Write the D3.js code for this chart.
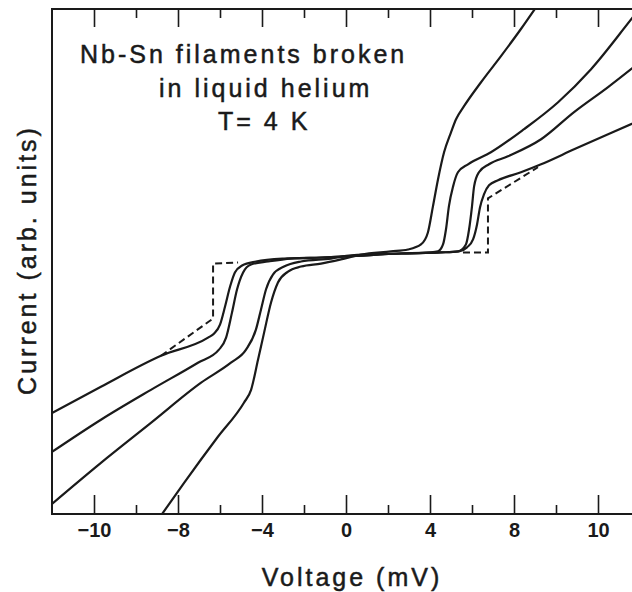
<!DOCTYPE html>
<html>
<head>
<meta charset="utf-8">
<script src="https://cdn.jsdelivr.net/npm/d3@7"></script>
<style>
  html, body { margin: 0; padding: 0; background: #fff; }
  svg { display: block; }
</style>
</head>
<body>
<div id="chart"></div>
<script>
// I-V traces: [voltage (mV), current (arb. units)]
const curveA = [
  [-14, -7.2], [-11.67, -5.95], [-8.81, -4.48], [-6.57, -3.62], [-6.29, -3.43], [-6.0, -3.0],
  [-5.76, -2.14], [-5.52, -1.19], [-5.29, -0.52], [-4.95, -0.19], [-4.29, 0], [-2.95, 0.14],
  [-1.19, 0.19], [0, 0.24], [2.62, 0.38], [4.52, 0.43], [5.38, 0.48], [5.76, 0.67], [6.05, 1.05],
  [6.24, 1.76], [6.38, 2.57], [6.57, 3.19], [6.81, 3.62], [7.24, 3.86], [8.33, 4.24], [9.29, 4.62],
  [10.86, 5.33], [12.48, 6.05], [14, 6.71],
]
const curveB = [
  [-14, -9.05], [-11.67, -7.52], [-9.29, -6.1], [-7.05, -4.81], [-6.05, -4.19], [-5.71, -3.62],
  [-5.43, -2.43], [-5.19, -1.33], [-4.9, -0.52], [-4.52, -0.14], [-3.71, 0], [-2.62, 0.14],
  [-1.19, 0.19], [0, 0.24], [2.62, 0.38], [4.52, 0.43], [5.33, 0.48], [5.71, 0.81], [5.86, 1.52],
  [6.0, 2.62], [6.1, 3.57], [6.33, 4.24], [6.81, 4.62], [7.71, 5.0], [9.29, 5.81], [10.86, 7.1],
  [12.48, 8.29], [14, 9.48],
]
const curveC = [
  [-14, -11.52], [-11.67, -9.57], [-9.29, -7.67], [-6.9, -5.76], [-5.48, -4.81], [-4.76, -4.19],
  [-4.29, -3.24], [-4.05, -2.29], [-3.81, -1.33], [-3.48, -0.62], [-2.95, -0.24], [-2.14, 0],
  [-0.71, 0.14], [0.24, 0.29], [2.62, 0.38], [4.05, 0.43], [4.38, 0.48], [4.62, 0.81], [4.76, 1.52],
  [4.9, 2.62], [5.1, 3.57], [5.33, 4.24], [5.81, 4.62], [6.9, 5.19], [8.48, 6.29], [10.1, 7.57],
  [11.67, 9.14], [13.67, 11.62], [14, 12.03],
]
const curveD = [
  [-8.9, -12.2], [-7.71, -10.52], [-6.1, -8.33], [-4.86, -6.71], [-4.52, -6.1], [-4.19, -4.67],
  [-3.9, -3.38], [-3.57, -1.95], [-3.24, -1.0], [-2.76, -0.48], [-2.14, -0.24], [-1.19, -0.1],
  [-0.24, 0.1], [0.71, 0.33], [2.14, 0.48], [2.95, 0.57], [3.57, 0.81], [3.9, 1.38], [4.14, 2.62],
  [4.38, 3.9], [4.67, 5.19], [5.0, 6.14], [5.24, 6.76], [5.62, 7.38], [6.43, 8.52], [7.38, 9.76],
  [8.33, 11.05], [9.2, 12.3],
]
// ideal (dashed) step, drawn only where it leaves the measured traces
const idealLeft = [[-8.81, -4.48], [-6.33, -2.71], [-6.33, -0.1], [-5.14, -0.05]]
const idealRight = [[5.57, 0.43], [6.76, 0.43], [6.76, 3.0], [9.14, 4.48]]

const xMajorTicks = [-12, -8, -4, 0, 4, 8, 12]
const xMajorLabels = ['\u221210', '\u22128', '\u22124', '0', '4', '8', '10']
const xMinorTicks = [-10, -6, -2, 2, 6, 10]
const titleLines = ['Nb-Sn filaments broken', 'in liquid helium', 'T= 4 K']

const width = 632
const height = 592
const plot = { left: 52, right: 640, top: 9, bottom: 514 }
const ink = '#1a1a1a'
const font = '"Liberation Sans", Arial, Helvetica, sans-serif'

const x = d3.scaleLinear().domain([-14, 14]).range([plot.left, plot.right])
const y = d3.scaleLinear().domain([-12, 12]).range([plot.bottom, plot.top])

const svg = d3.select('#chart')
  .append('svg')
  .attr('width', width)
  .attr('height', height)

svg.append('defs')
  .append('clipPath')
  .attr('id', 'plot-clip')
  .append('rect')
  .attr('x', plot.left)
  .attr('y', plot.top)
  .attr('width', plot.right - plot.left)
  .attr('height', plot.bottom - plot.top)

// Traces
const line = d3.line().x(d => x(d[0])).y(d => y(d[1])).curve(d3.curveMonotoneX)
const dashLine = d3.line().x(d => x(d[0])).y(d => y(d[1]))

const g = svg.append('g').attr('clip-path', 'url(#plot-clip)')

g.selectAll('path.ideal')
  .data([idealLeft, idealRight])
  .join('path')
  .attr('class', 'ideal')
  .attr('d', dashLine)
  .attr('fill', 'none')
  .attr('stroke', ink)
  .attr('stroke-width', 2)
  .attr('stroke-dasharray', '7,4')

g.selectAll('path.trace')
  .data([curveA, curveB, curveC, curveD])
  .join('path')
  .attr('class', 'trace')
  .attr('d', line)
  .attr('fill', 'none')
  .attr('stroke', ink)
  .attr('stroke-width', 2.2)
  .attr('stroke-linejoin', 'round')

// Frame
svg.append('rect')
  .attr('x', plot.left)
  .attr('y', plot.top)
  .attr('width', plot.right - plot.left)
  .attr('height', plot.bottom - plot.top)
  .attr('fill', 'none')
  .attr('stroke', ink)
  .attr('stroke-width', 2)

// Ticks point inward, on bottom and top
function styleAxis(sel) {
  sel.select('.domain').remove()
  sel.selectAll('line').attr('stroke', ink).attr('stroke-width', 1.6)
}

svg.append('g')
  .attr('transform', `translate(0,${plot.bottom})`)
  .call(d3.axisBottom(x).tickValues(xMinorTicks).tickFormat('').tickSizeInner(-9).tickSizeOuter(0))
  .call(styleAxis)

svg.append('g')
  .attr('transform', `translate(0,${plot.bottom})`)
  .call(d3.axisBottom(x).tickValues(xMajorTicks).tickFormat((d, i) => xMajorLabels[i])
    .tickSizeInner(-19).tickSizeOuter(0).tickPadding(9))
  .call(styleAxis)
  .call(s => s.selectAll('text')
    .attr('fill', ink)
    .attr('font-family', font)
    .attr('font-size', 20)
    .attr('font-weight', 'bold'))

svg.append('g')
  .attr('transform', `translate(0,${plot.top})`)
  .call(d3.axisTop(x).tickValues(xMinorTicks).tickFormat('').tickSizeInner(-9).tickSizeOuter(0))
  .call(styleAxis)

svg.append('g')
  .attr('transform', `translate(0,${plot.top})`)
  .call(d3.axisTop(x).tickValues(xMajorTicks).tickFormat('').tickSizeInner(-18).tickSizeOuter(0))
  .call(styleAxis)

// Labels
function label(sel) {
  return sel
    .attr('fill', ink)
    .attr('stroke', ink)
    .attr('stroke-width', 0.5)
    .attr('font-family', font)
    .attr('font-size', 25)
    .attr('letter-spacing', 3)
}

svg.append('text')
  .text('Voltage (mV)')
  .attr('x', 352)
  .attr('y', 586)
  .attr('text-anchor', 'middle')
  .call(label)

svg.append('text')
  .text('Current (arb. units)')
  .attr('transform', 'translate(36,260) rotate(-90)')
  .attr('text-anchor', 'middle')
  .call(label)

const titleX = [80, 159, 218]
const titleY = [63, 97, 130]
svg.selectAll('text.title')
  .data(titleLines)
  .join('text')
  .attr('class', 'title')
  .text(d => d)
  .attr('x', (d, i) => titleX[i])
  .attr('y', (d, i) => titleY[i])
  .call(label)
</script>
</body>
</html>
